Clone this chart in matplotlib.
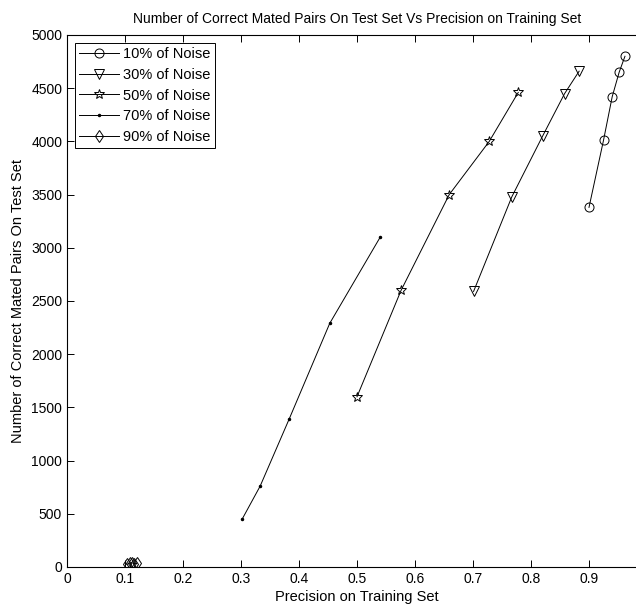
import matplotlib
matplotlib.use("Agg")
import matplotlib.pyplot as plt

plt.rcParams['font.family'] = ['Liberation Sans', 'DejaVu Sans']

# precision on training set (x) and correct mated pairs on test set (y)
prec_10 = [0.900, 0.925, 0.940, 0.952, 0.962]
pairs_10 = [3380, 4010, 4420, 4650, 4800]

prec_30 = [0.701, 0.767, 0.820, 0.858, 0.883]
pairs_30 = [2590, 3480, 4050, 4450, 4660]

prec_50 = [0.500, 0.576, 0.659, 0.728, 0.778]
pairs_50 = [1600, 2600, 3500, 4000, 4460]

prec_70 = [0.302, 0.333, 0.383, 0.453, 0.540]
pairs_70 = [450, 760, 1390, 2290, 3100]

prec_90 = [0.103, 0.108, 0.112, 0.116, 0.120]
pairs_90 = [25, 35, 40, 30, 35]

labels = ['10% of Noise', '30% of Noise', '50% of Noise', '70% of Noise', '90% of Noise']

fig = plt.figure(figsize=(6.36, 6.08), dpi=100)
ax = fig.add_axes([67 / 636, 41 / 608, 580 / 636, 532 / 608])

kw = dict(color='black', lw=0.7, mfc='none', mec='black', mew=0.7)
ax.plot(prec_10, pairs_10, marker='o', ms=6.5, label=labels[0], **kw)
ax.plot(prec_30, pairs_30, marker='v', ms=7, label=labels[1], **kw)
ax.plot(prec_50, pairs_50, marker='*', ms=7.5, label=labels[2], **kw)
ax.plot(prec_70, pairs_70, marker='.', ms=3, color='black', lw=0.7, label=labels[3])
ax.plot(prec_90, pairs_90, marker='d', ms=6.5, label=labels[4], **kw)

ax.set_xlim(0, 1)
ax.set_ylim(0, 5000)
ax.set_xticks([0, 0.1, 0.2, 0.3, 0.4, 0.5, 0.6, 0.7, 0.8, 0.9])
ax.set_xticklabels(['0', '0.1', '0.2', '0.3', '0.4', '0.5', '0.6', '0.7', '0.8', '0.9'])
ax.set_yticks(range(0, 5001, 500))
ax.tick_params(direction='in', top=True, right=True, labelsize=10, length=5, width=0.7)
for s in ax.spines.values():
    s.set_linewidth(0.8)

ax.set_title('Number of Correct Mated Pairs On Test Set Vs Precision on Training Set', fontsize=10, pad=9)
ax.set_xlabel('Precision on Training Set', fontsize=10.5, labelpad=3)
ax.set_ylabel('Number of Correct Mated Pairs On Test Set', fontsize=10.5, labelpad=4)

leg = ax.legend(loc='upper left', fontsize=10.5, fancybox=False, edgecolor='black',
                framealpha=1, handlelength=2.7, borderaxespad=0.55, labelspacing=0.45,
                borderpad=0.3, handletextpad=0.3)
leg.get_frame().set_linewidth(0.7)

fig.savefig('out.png', dpi=100)
